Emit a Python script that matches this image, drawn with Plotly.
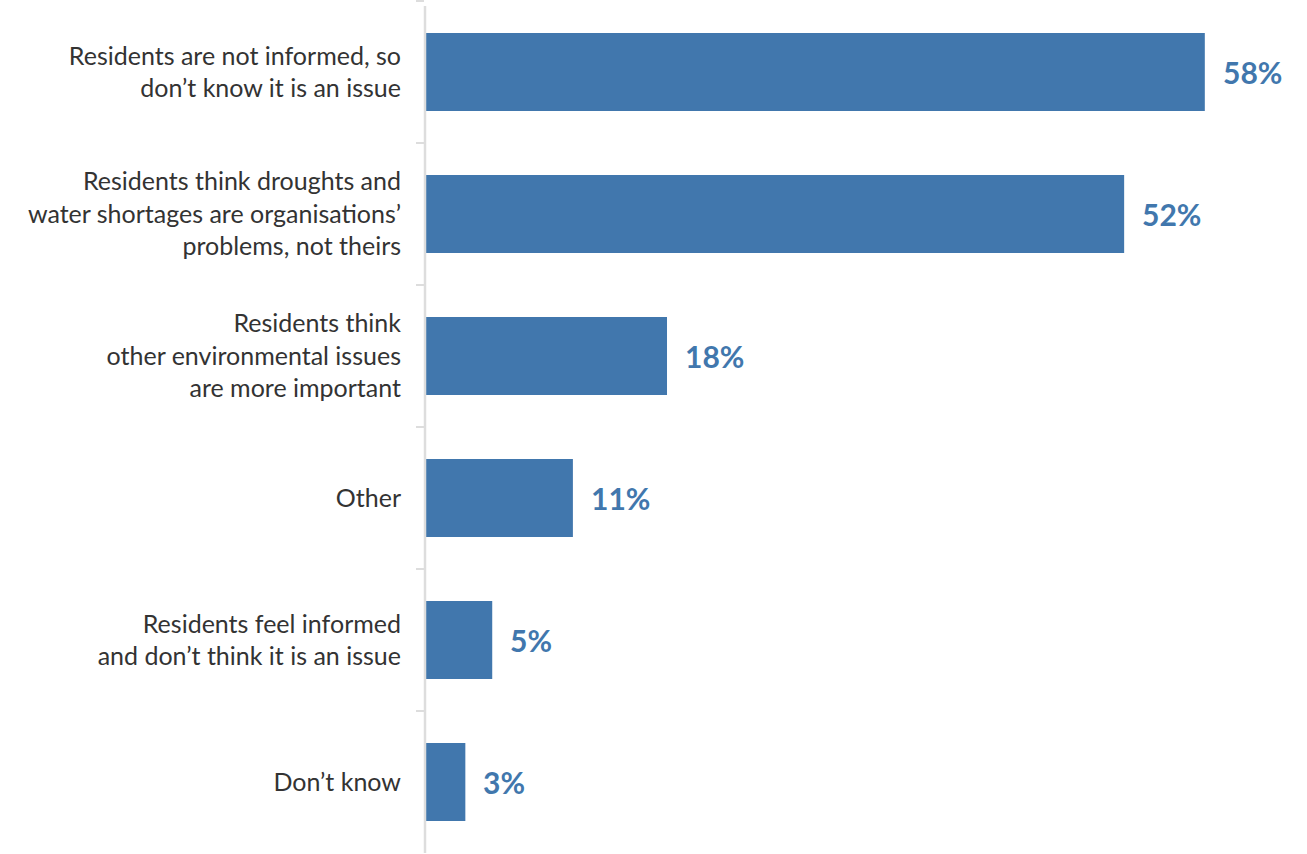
import plotly.graph_objects as go

categories = [
    "Residents are not informed, so<br>don’t know it is an issue",
    "Residents think droughts and<br>water shortages are organisations’<br>problems, not theirs",
    "Residents think<br>other environmental issues<br>are more important",
    "Other",
    "Residents feel informed<br>and don’t think it is an issue",
    "Don’t know",
]
values = [58, 52, 18, 11, 5, 3]
labels = [f"{v}%" for v in values]

BAR = "#4177ad"
FONT = "Lato"

fig = go.Figure()
fig.add_trace(go.Bar(
    x=values, y=categories, orientation="h",
    marker=dict(color=BAR, line=dict(width=0)),
    width=0.55, hoverinfo="skip",
))

for c, v, t in zip(categories, values, labels):
    fig.add_annotation(x=v, y=c, text=f"<b>{t}</b>", showarrow=False,
                       xanchor="left", xshift=16,
                       font=dict(family=FONT, size=30, color=BAR))

fig.add_shape(type="line", xref="paper", yref="paper",
              x0=0, x1=0, y0=0, y1=1 - 5 / 852,
              line=dict(color="#dddddd", width=2.5), layer="above")

fig.update_layout(
    width=1307, height=854,
    margin=dict(l=425, r=0, t=1, b=1),
    paper_bgcolor="white", plot_bgcolor="white",
    showlegend=False,
    font=dict(family=FONT, size=25, color="#333333"),
    xaxis=dict(range=[0, 65.6], visible=False, fixedrange=True),
    yaxis=dict(
        autorange="reversed",
        showline=False, fixedrange=True,
        ticks="outside", tickson="boundaries", ticklen=8,
        tickcolor="#dddddd", tickwidth=2,
        ticklabelstandoff=23,
        showgrid=False, zeroline=False,
        tickfont=dict(family=FONT, size=25, color="#333333"),
    ),
)

fig.write_html("out.html", config={"displayModeBar": False},
               post_script="document.body.style.margin='0';")
